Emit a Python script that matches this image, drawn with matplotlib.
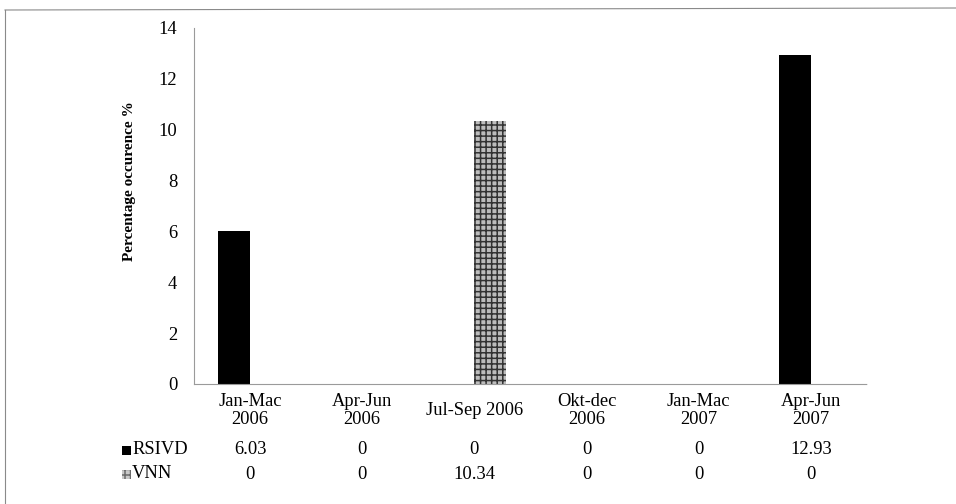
import matplotlib
matplotlib.use('Agg')
import matplotlib.pyplot as plt
import numpy as np
from matplotlib.patches import Rectangle
from matplotlib.lines import Line2D
import matplotlib.transforms as mtransforms

plt.rcParams['font.family'] = ['Liberation Serif', 'DejaVu Serif']
plt.rcParams['hatch.linewidth'] = 1.1

categories = ['Jan-Mac\n2006', 'Apr-Jun\n2006', 'Jul-Sep 2006', 'Okt-dec\n2006', 'Jan-Mac\n2007', 'Apr-Jun\n2007']
rsivd = [6.03, 0, 0, 0, 0, 12.93]
vnn = [0, 0, 10.34, 0, 0, 0]
rsivd_txt = ['6.03', '0', '0', '0', '0', '12.93']
vnn_txt = ['0', '0', '10.34', '0', '0', '0']

fs = 13.3

fig = plt.figure(figsize=(9.56, 5.04), dpi=100)
ax = fig.add_axes([194/956, 1-384/504, 673/956, 356/504])

x = np.arange(len(categories))
w = 0.285
ax.bar(x - w/2, rsivd, w, color='black', edgecolor='black', linewidth=0)
ax.bar(x + w/2, vnn, w, color='#bdbdbd', edgecolor='#333333', hatch='+++', linewidth=0)

ax.set_xlim(-0.5, 5.5)
ax.set_ylim(0, 14)
ax.set_yticks(range(0, 15, 2))
ax.set_xticks([])
ax.tick_params(axis='y', length=0, pad=12, labelsize=fs)
for s in ['top', 'right']:
    ax.spines[s].set_visible(False)
for s in ['left', 'bottom']:
    ax.spines[s].set_color('#9a9a9a')
    ax.spines[s].set_linewidth(0.8)
    ax.spines[s].set_linestyle((0, (1, 1)))

trans = mtransforms.blended_transform_factory(ax.transData, ax.transAxes)
for i, c in enumerate(categories):
    ax.text(i, -0.075, c, transform=trans, ha='center', va='center',
            multialignment='center', fontsize=fs, linespacing=1.1)
    ax.text(i, -0.185, rsivd_txt[i], transform=trans, ha='center', va='center', fontsize=fs)
    ax.text(i, -0.253, vnn_txt[i], transform=trans, ha='center', va='center', fontsize=fs)

# row labels of the data table
fig.text(132/956, 1-450/504, 'RSIVD', ha='left', va='center', fontsize=fs)
fig.text(132/956, 1-474/504, 'VNN', ha='left', va='center', fontsize=fs)
fig.patches.append(Rectangle((122/956, 1-455/504), 9/956, 9/504, transform=fig.transFigure,
                             facecolor='black', edgecolor='none'))
fig.patches.append(Rectangle((122/956, 1-479/504), 9/956, 9/504, transform=fig.transFigure,
                             facecolor='#c8c8c8', edgecolor='#6a6a6a', hatch='+++', linewidth=0))

fig.text(130/956, 1-181/504, 'Percentage occurence %', rotation=90, ha='center', va='center',
         fontsize=11, fontweight='bold')

# outer chart frame (only left and top visible)
fig.lines.append(Line2D([5/956, 5/956], [0, 1-10/504], transform=fig.transFigure, color='#8a8a8a', lw=0.8))
fig.lines.append(Line2D([5/956, 1], [1-10/504, 1-8/504], transform=fig.transFigure, color='#8a8a8a', lw=0.8))

fig.savefig('out.png', dpi=100)
